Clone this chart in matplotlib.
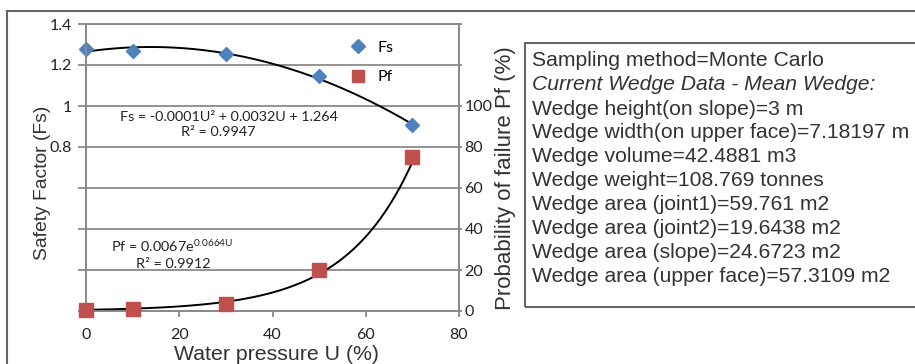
import numpy as np
import matplotlib
matplotlib.use("Agg")
import matplotlib.pyplot as plt
from matplotlib.lines import Line2D
from matplotlib.patches import Rectangle

W, H = 915, 364

# data
U = [0, 10, 30, 50, 70]
FS = [1.278, 1.268, 1.254, 1.146, 0.905]
PF = [0.6, 1.2, 3.4, 20.2, 75.0]

X_TICKS = [0, 20, 40, 60, 80]
LEFT_TICKS = [0, 0.2, 0.4, 0.6, 0.8, 1.0, 1.2, 1.4]
LEFT_LABELS = ["", "", "", "", "0.8", "1", "1.2", "1.4"]
RIGHT_TICKS = [0, 20, 40, 60, 80, 100, 120, 140]
RIGHT_LABELS = ["0", "20", "40", "60", "80", "100", "", ""]

INFO_LINES = [
    "Sampling method=Monte Carlo",
    "Current Wedge Data - Mean Wedge:",
    "Wedge height(on slope)=3 m",
    "Wedge width(on upper face)=7.18197 m",
    "Wedge volume=42.4881 m3",
    "Wedge weight=108.769 tonnes",
    "Wedge area (joint1)=59.761 m2",
    "Wedge area (joint2)=19.6438 m2",
    "Wedge area (slope)=24.6723 m2",
    "Wedge area (upper face)=57.3109 m2",
]

BLUE = "#4F81BD"
RED = "#C0504D"
GRID = "#8a8a8a"
FRAME = "#666666"
TXT = "#222222"
TICK_FONT = "Lato"
ARIAL = "Liberation Sans"

plt.rcParams["mathtext.fontset"] = "custom"
plt.rcParams["mathtext.rm"] = TICK_FONT


def fx(x):
    return x / W


def fy(y):
    return 1 - y / H


fig = plt.figure(figsize=(W / 100, H / 100), dpi=100)
ax = fig.add_axes([fx(86), fy(311), fx(459) - fx(86), fy(24) - fy(311)])
ax2 = ax.twinx()

# trend lines, fitted from the points
uu = np.linspace(0, 70, 200)
fs_fit = np.polyfit(U, FS, 2)
ax.plot(uu, np.polyval(fs_fit, uu), color="black", lw=1.4, zorder=2)
k, ln_a = np.polyfit(U, np.log(PF), 1)
ax2.plot(uu, np.exp(ln_a) * np.exp(k * uu), color="black", lw=1.4, zorder=2)

ax.plot(U, FS, linestyle="None", marker="D", ms=7.5, color=BLUE, zorder=3, clip_on=False)
ax2.plot(U, PF, linestyle="None", marker="s", ms=9.5, color=RED, zorder=3, clip_on=False)

ax.set_xlim(0, 80)
ax.set_ylim(0, 1.4)
ax2.set_ylim(0, 140)

ax.set_yticks(LEFT_TICKS)
ax.set_yticklabels(LEFT_LABELS)
ax2.set_yticks(RIGHT_TICKS)
ax2.set_yticklabels(RIGHT_LABELS)
ax.set_xticks(X_TICKS)
ax.set_xticklabels([str(t) for t in X_TICKS])

ax.grid(axis="y", color=GRID, lw=1.3)
ax.set_axisbelow(True)
for a in (ax, ax2):
    for s in a.spines.values():
        s.set_color(GRID)
        s.set_linewidth(1.3)

ax.tick_params(axis="y", direction="out", length=6, width=1.3, color=GRID, pad=4,
               labelsize=11.5, labelcolor=TXT)
ax.tick_params(axis="x", direction="out", length=4, width=1.3, color=GRID, pad=8,
               labelsize=11.5, labelcolor=TXT)
ax2.tick_params(axis="y", direction="out", length=2, width=1.3, color=GRID, pad=2,
                labelsize=11.5, labelcolor=TXT)
for lab in ax.get_xticklabels() + ax.get_yticklabels() + ax2.get_yticklabels():
    lab.set_fontfamily(TICK_FONT)

# legend
handles = [
    Line2D([0], [0], marker="D", linestyle="None", color=BLUE, ms=7, label="Fs"),
    Line2D([0], [0], marker="s", linestyle="None", color=RED, ms=9, label="Pf"),
]
ax.legend(handles=handles, loc="upper left", bbox_to_anchor=(0.666, 0.992),
          frameon=False, prop={"family": TICK_FONT, "size": 11.5},
          labelspacing=0.95, handletextpad=0.6, handlelength=1.2)

# equations
eq_kw = dict(family=TICK_FONT, size=10.4, color=TXT, ha="center", va="center")
fig.text(fx(229), fy(117), "Fs = -0.0001U\u00b2 + 0.0032U + 1.264", **eq_kw)
fig.text(fx(218), fy(132), "R\u00b2 = 0.9947", **eq_kw)
fig.text(fx(172), fy(246), r"Pf = 0.0067e$\mathregular{^{0.0664U}}$", **eq_kw)
fig.text(fx(173), fy(264), "R\u00b2 = 0.9912", **eq_kw)

# axis titles
lab_kw = dict(family=ARIAL, color="#333333", ha="center", va="center")
fig.text(fx(43), fy(183), "Safety Factor (Fs)", rotation=90, size=13.9, **lab_kw)
fig.text(fx(506), fy(178), "Probability of failure Pf (%)", rotation=90, size=16, **lab_kw)
fig.text(fx(277), fy(354), "Water pressure U (%)", size=15.3, **lab_kw)

# outer frame
fig.add_artist(Line2D([fx(7), 1.0], [fy(11), fy(11)], color=FRAME, lw=1.5,
                      transform=fig.transFigure))
fig.add_artist(Line2D([fx(7), fx(7)], [fy(11), 0.0], color=FRAME, lw=1.5,
                      transform=fig.transFigure))

# info box
fig.add_artist(Rectangle((fx(525), fy(307)), fx(W + 5) - fx(525), fy(43) - fy(307),
                         transform=fig.transFigure, fill=False, edgecolor=FRAME, lw=1.5))
for i, line in enumerate(INFO_LINES):
    fig.text(fx(532), fy(61 + i * 24), line, family=ARIAL, size=15.2, color="#333333",
             ha="left", va="center", style="italic" if i == 1 else "normal")

fig.savefig("out.png", dpi=100)
